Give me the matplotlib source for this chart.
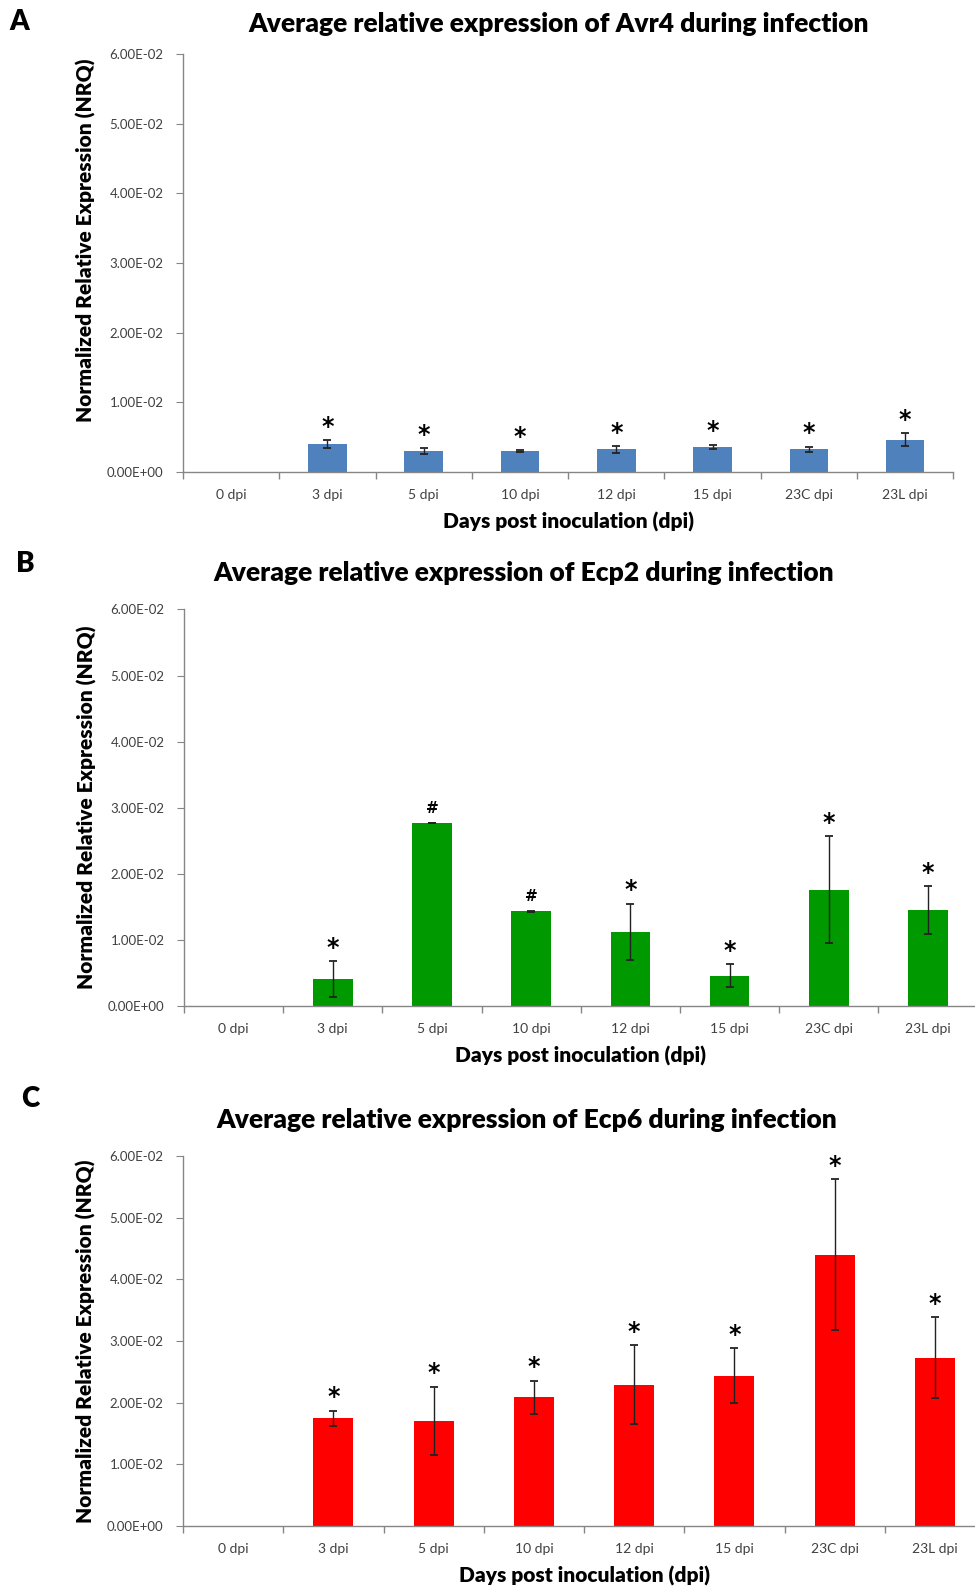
import matplotlib
matplotlib.use('Agg')
import matplotlib.pyplot as plt
from matplotlib.ticker import FuncFormatter, MultipleLocator, FixedLocator
import numpy as np

plt.rcParams['font.family'] = ['Lato', 'DejaVu Sans']

# データ
categories = ['0 dpi', '3 dpi', '5 dpi', '10 dpi', '12 dpi', '15 dpi', '23C dpi', '23L dpi']

avr4_mean = [0.0, 0.0040, 0.0030, 0.0030, 0.00325, 0.0036, 0.00325, 0.0046]
avr4_err = [0.0, 0.0006, 0.0004, 0.0001, 0.00047, 0.0003, 0.00038, 0.00093]
avr4_marks = ['', '*', '*', '*', '*', '*', '*', '*']

ecp2_mean = [0.0, 0.0041, 0.0277, 0.0143, 0.0112, 0.0046, 0.0176, 0.0145]
ecp2_err = [0.0, 0.0027, 0.00005, 0.00005, 0.0043, 0.0017, 0.0081, 0.0036]
ecp2_marks = ['', '*', '#', '#', '*', '*', '*', '*']

ecp6_mean = [0.0, 0.0175, 0.0171, 0.0209, 0.0229, 0.0244, 0.0440, 0.0273]
ecp6_err = [0.0, 0.0012, 0.0055, 0.0027, 0.0064, 0.0044, 0.0122, 0.0066]
ecp6_marks = ['', '*', '*', '*', '*', '*', '*', '*']

panels = [
    ('A', 'Avr4', avr4_mean, avr4_err, avr4_marks, '#4F81BD'),
    ('B', 'Ecp2', ecp2_mean, ecp2_err, ecp2_marks, '#009900'),
    ('C', 'Ecp6', ecp6_mean, ecp6_err, ecp6_marks, '#FF0000'),
]

# 各パネルの位置 (left, bottom, width, height) と見出し位置
axes_rect = [
    (0.1877, 0.7028, 0.790, 0.2632),
    (0.1887, 0.3665, 0.814, 0.2497),
    (0.1877, 0.0390, 0.8226, 0.2330),
]
letter_pos = [(0.010, 0.986), (0.016, 0.645), (0.022, 0.308)]
title_pos = [(0.573, 0.985), (0.537, 0.639), (0.540, 0.295)]
ylabel_y = [0.555, 0.5, 0.5]

fig = plt.figure(figsize=(9.75, 15.88), dpi=100)
axis_gray = '#868686'
tick_color = '#404040'

for i, (letter, gene, mean, err, marks, color) in enumerate(panels):
    ax = fig.add_axes(axes_rect[i])
    x = np.arange(len(categories))
    ax.bar(x, mean, width=0.4, color=color, linewidth=0, zorder=2)
    has_err = [e > 0 for e in err]
    ax.errorbar(x[has_err], np.array(mean)[has_err], yerr=np.array(err)[has_err],
                fmt='none', ecolor='#222222', elinewidth=1, capsize=3, capthick=1.3, zorder=3)

    # 有意差マーク
    for xi, m, e, mk in zip(x, mean, err, marks):
        if not mk:
            continue
        size = 17 if mk == '*' else 11
        off = 1 if mk == '*' else 5
        ax.annotate(mk, (xi, m + e), xytext=(0, off), textcoords='offset points',
                    ha='center', va='bottom', fontsize=size, fontweight='bold',
                    family=['DejaVu Sans'])

    ax.set_xlim(-0.5, len(categories) - 0.5)
    ax.set_ylim(0, 0.06)
    ax.yaxis.set_major_locator(MultipleLocator(0.01))
    ax.yaxis.set_major_formatter(FuncFormatter(lambda v, p: f'{v:.2E}'))
    ax.set_xticks(x)
    ax.set_xticklabels(categories)
    ax.xaxis.set_minor_locator(FixedLocator(np.arange(-0.5, len(categories), 1.0)))
    ax.tick_params(axis='x', which='major', length=0, pad=12, labelsize=10, labelcolor=tick_color)
    ax.tick_params(axis='x', which='minor', length=5, color=axis_gray, width=1)
    ax.tick_params(axis='y', which='major', length=5, color=axis_gray, labelsize=9.5, labelcolor=tick_color, pad=9)

    for s in ['top', 'right']:
        ax.spines[s].set_visible(False)
    for s in ['left', 'bottom']:
        ax.spines[s].set_color(axis_gray)
        ax.spines[s].set_linewidth(1)

    ax.set_ylabel('Normalized Relative Expression (NRQ)', fontsize=15, fontweight='heavy', labelpad=8)
    ax.yaxis.label.set_y(ylabel_y[i])
    ax.set_xlabel('Days post inoculation (dpi)', fontsize=15, fontweight='heavy', labelpad=8)

    fig.text(title_pos[i][0], title_pos[i][1], f'Average relative expression of {gene} during infection',
             ha='center', va='center', fontsize=19, fontweight='heavy')
    fig.text(letter_pos[i][0], letter_pos[i][1], letter, ha='left', va='center',
             fontsize=20, fontweight='heavy')

plt.savefig('out.png', dpi=100)
plt.close('all')
